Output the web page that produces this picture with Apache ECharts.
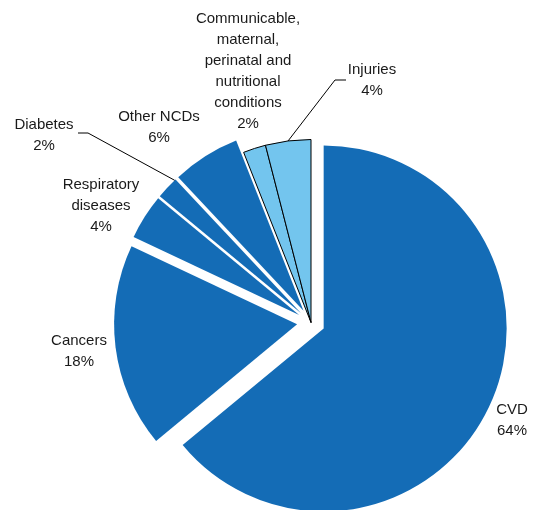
<!DOCTYPE html>
<html>
<head>
<meta charset="utf-8">
<script src="https://cdn.jsdelivr.net/npm/echarts@6/dist/echarts.min.js"></script>
<style>
html,body{margin:0;padding:0;background:#fff;}
#chart{width:533px;height:510px;}
</style>
</head>
<body>
<div id="chart"></div>
<script>
const categories = ['CVD', 'Cancers', 'Respiratory\ndiseases', 'Diabetes', 'Other NCDs',
  'Communicable,\nmaternal,\nperinatal and\nnutritional\nconditions', 'Injuries'];
const values = [64, 18, 4, 2, 6, 2, 4];
const exploded = [true, true, true, true, true, false, false];
const lightGroup = [false, false, false, false, false, true, true];

const DARK = '#146cb6';
const LIGHT = '#73c5ee';
const CX = 311, CY = 322.5, R = 183, OFFSET = 14;
const labelPos = [
  [512, 420], [79, 351], [101, 206], [44, 135], [159, 127], [248, 71], [372, 80]
];
// where the leader line touches its slice: fraction along the slice's arc (0 = start, 1 = end)
const guideAnchor = { 3: 0.95, 6: 0.5 };
const guideBend = { 3: [[88, 133], [78, 133]], 6: [[335, 80], [346, 80]] };

const total = values.reduce((a, b) => a + b, 0);
function arcPoint(i, frac) {
  let cum = 0;
  for (let k = 0; k < i; k++) cum += values[k];
  const a0 = cum / total * 2 * Math.PI;
  const a1 = (cum + values[i]) / total * 2 * Math.PI;
  const mid = (a0 + a1) / 2;
  const off = exploded[i] ? OFFSET : 0;
  const a = a0 + (a1 - a0) * frac;
  return [CX + off * Math.sin(mid) + R * Math.sin(a),
          CY - off * Math.cos(mid) - R * Math.cos(a)];
}

const pieData = categories.map((name, i) => ({
  name: name,
  value: values[i],
  selected: exploded[i],
  itemStyle: lightGroup[i]
    ? { color: LIGHT, borderColor: '#000', borderWidth: 1 }
    : { color: DARK, borderWidth: 0 }
}));

const labelData = categories.map((name, i) => ({
  name: name,
  value: values[i],
  labelLine: { show: guideBend[i] !== undefined }
}));

const chart = echarts.init(document.getElementById('chart'), null, { renderer: 'canvas' });
chart.setOption({
  animation: false,
  backgroundColor: '#ffffff',
  series: [{
    type: 'pie',
    center: [CX, CY],
    radius: [0, R],
    startAngle: 90,
    clockwise: true,
    selectedMode: 'multiple',
    selectedOffset: OFFSET,
    silent: true,
    data: pieData,
    label: { show: false },
    labelLine: { show: false },
    select: { itemStyle: { borderWidth: 0 } },
    emphasis: { disabled: true }
  }, {
    type: 'pie',
    center: [CX, CY],
    radius: [0, R],
    startAngle: 90,
    clockwise: true,
    silent: true,
    z: 3,
    avoidLabelOverlap: false,
    data: labelData,
    itemStyle: { color: 'rgba(0,0,0,0)', borderWidth: 0 },
    label: {
      show: true,
      formatter: '{b}\n{d}%',
      fontFamily: 'Liberation Sans',
      fontSize: 15,
      lineHeight: 21,
      color: '#1a1a1a',
      align: 'center'
    },
    labelLine: {
      show: false,
      lineStyle: { color: '#000', width: 1 }
    },
    emphasis: { disabled: true },
    labelLayout: function (params) {
      const i = params.dataIndex;
      const p = labelPos[i];
      const out = { x: p[0], y: p[1], align: 'center', verticalAlign: 'middle' };
      if (guideBend[i]) {
        out.labelLinePoints = [arcPoint(i, guideAnchor[i]), guideBend[i][0], guideBend[i][1]];
      }
      return out;
    }
  }]
});
</script>
</body>
</html>
